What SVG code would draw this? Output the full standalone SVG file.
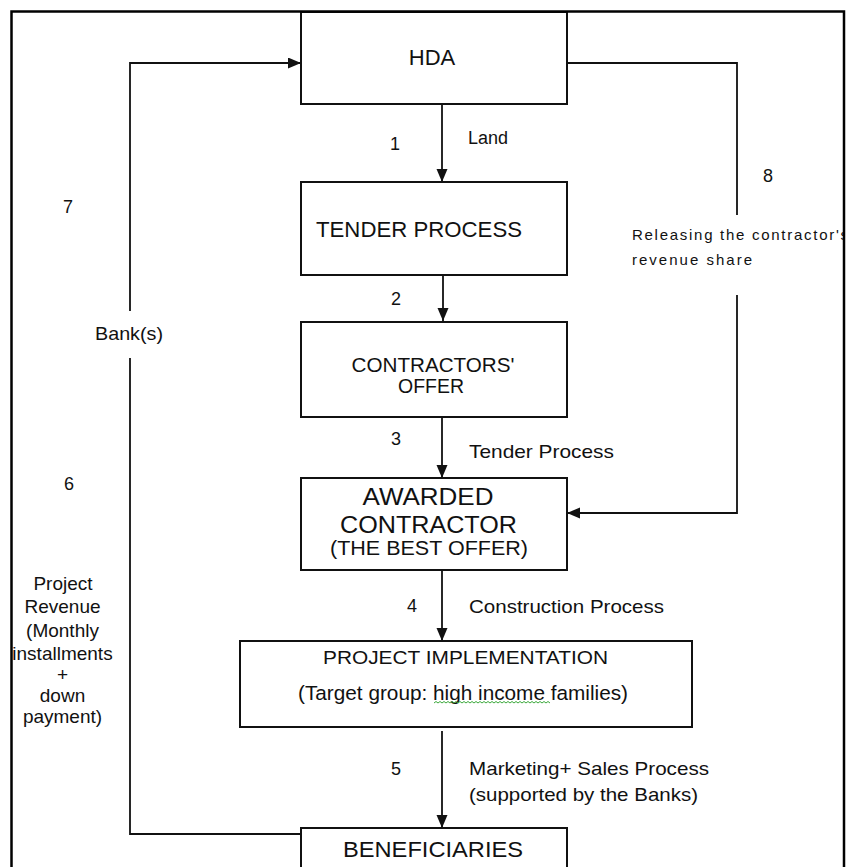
<svg xmlns="http://www.w3.org/2000/svg" width="850" height="867" viewBox="0 0 850 867">
<defs>
<style>
.box{fill:#fff;stroke:#111;stroke-width:2}
.ln{fill:none;stroke:#111;stroke-width:1.8}
.t{font-family:"Liberation Sans",Arial,sans-serif;fill:#111}
.c{text-anchor:middle}
.bm{font-family:"Liberation Sans",Arial,sans-serif;fill:#111;font-size:15px}
</style>
<marker id="ah" markerUnits="userSpaceOnUse" markerWidth="14" markerHeight="12" refX="13" refY="5.5" orient="auto">
<path d="M0,0 L13,5.5 L0,11 z" fill="#111"/>
</marker>
<clipPath id="fr"><rect x="0" y="0" width="843" height="867"/></clipPath>
</defs>
<rect width="850" height="867" fill="#fff"/>

<g id="connectors">
<path class="ln" d="M442,104 V182" marker-end="url(#ah)"/>
<path class="ln" d="M443,275 V321" marker-end="url(#ah)"/>
<path class="ln" d="M442,417 V478" marker-end="url(#ah)"/>
<path class="ln" d="M442,570 V641" marker-end="url(#ah)"/>
<path class="ln" d="M442,731 V828" marker-end="url(#ah)"/>
<path class="ln" d="M301,834 H130 V358"/>
<path class="ln" d="M130,311 V63 H301" marker-end="url(#ah)"/>
<path class="ln" d="M567,63 H737 V215"/>
<path class="ln" d="M737,295 V513 H567" marker-end="url(#ah)"/>
</g>

<g id="hda">
<rect class="box" x="301" y="12" width="266" height="92"/>
<text class="t c" x="432" y="65" font-size="22">HDA</text>
</g>
<g id="tender">
<rect class="box" x="301" y="182" width="266" height="93"/>
<text class="t c" x="419" y="237" font-size="22" textLength="206" lengthAdjust="spacingAndGlyphs">TENDER PROCESS</text>
</g>
<g id="offer">
<rect class="box" x="301" y="322" width="266" height="95"/>
<text class="t c" x="433" y="372" font-size="20" textLength="163" lengthAdjust="spacingAndGlyphs">CONTRACTORS'</text>
<text class="t c" x="431" y="393" font-size="20" textLength="66" lengthAdjust="spacingAndGlyphs">OFFER</text>
</g>
<g id="awarded">
<rect class="box" x="301" y="478" width="266" height="92"/>
<text class="t c" x="428" y="505" font-size="24" textLength="131" lengthAdjust="spacingAndGlyphs">AWARDED</text>
<text class="t c" x="428.5" y="533" font-size="24" textLength="177" lengthAdjust="spacingAndGlyphs">CONTRACTOR</text>
<text class="t c" x="429" y="555" font-size="20" textLength="198" lengthAdjust="spacingAndGlyphs">(THE BEST OFFER)</text>
</g>
<g id="implementation">
<rect class="box" x="240" y="641" width="452" height="86"/>
<text class="t c" x="465.5" y="664" font-size="19" textLength="285" lengthAdjust="spacingAndGlyphs">PROJECT IMPLEMENTATION</text>
<text class="t c" x="463" y="700" font-size="20.5" textLength="330" lengthAdjust="spacingAndGlyphs">(Target group: high income families)</text>
<path d="M434,703 l2,-1.5 l2,1.5 l2,-1.5 l2,1.5 l2,-1.5 l2,1.5 l2,-1.5 l2,1.5 l2,-1.5 l2,1.5 l2,-1.5 l2,1.5 l2,-1.5 l2,1.5 l2,-1.5 l2,1.5 l2,-1.5 l2,1.5 l2,-1.5 l2,1.5 l2,-1.5 l2,1.5 l2,-1.5 l2,1.5 l2,-1.5 l2,1.5 l2,-1.5 l2,1.5 l2,-1.5 l2,1.5 l2,-1.5 l2,1.5 l2,-1.5 l2,1.5 l2,-1.5 l2,1.5 l2,-1.5 l2,1.5 l2,-1.5 l2,1.5 l2,-1.5 l2,1.5 l2,-1.5 l2,1.5 l2,-1.5 l2,1.5 l2,-1.5 l2,1.5 l2,-1.5 l2,1.5 l2,-1.5 l2,1.5 l2,-1.5 l2,1.5 l2,-1.5 l2,1.5 l2,-1.5 l2,1.5" fill="none" stroke="#3aa83a" stroke-width="1"/>
</g>
<g id="beneficiaries">
<rect class="box" x="301" y="828" width="266" height="60"/>
<text class="t c" x="433" y="857" font-size="22" textLength="180" lengthAdjust="spacingAndGlyphs">BENEFICIARIES</text>
</g>

<g id="labels">
<text class="t c" x="395" y="150" font-size="18">1</text>
<text class="t" x="468" y="144" font-size="18">Land</text>
<text class="t c" x="396" y="305" font-size="18">2</text>
<text class="t c" x="396" y="445" font-size="18">3</text>
<text class="t" x="469" y="458" font-size="18.5" textLength="145" lengthAdjust="spacingAndGlyphs">Tender Process</text>
<text class="t c" x="412" y="612" font-size="18">4</text>
<text class="t" x="469" y="613" font-size="18.5" textLength="195" lengthAdjust="spacingAndGlyphs">Construction Process</text>
<text class="t c" x="396" y="775" font-size="18">5</text>
<text class="t" x="469" y="775" font-size="18.5" textLength="240" lengthAdjust="spacingAndGlyphs">Marketing+ Sales Process</text>
<text class="t" x="469" y="801" font-size="18.5" textLength="229" lengthAdjust="spacingAndGlyphs">(supported by the Banks)</text>
<text class="t c" x="68" y="213" font-size="18">7</text>
<text class="t c" x="129" y="340" font-size="19" textLength="68" lengthAdjust="spacingAndGlyphs">Bank(s)</text>
<text class="t c" x="69" y="490" font-size="18">6</text>
<text class="t c" x="63" y="590" font-size="19">Project</text>
<text class="t c" x="62.5" y="613" font-size="19">Revenue</text>
<text class="t c" x="62.5" y="637" font-size="19">(Monthly</text>
<text class="t c" x="62.5" y="660" font-size="19">installments</text>
<text class="t c" x="62.5" y="681" font-size="19">+</text>
<text class="t c" x="62.5" y="702" font-size="19">down</text>
<text class="t c" x="62.5" y="723" font-size="19">payment)</text>
<text class="t c" x="768" y="182" font-size="18">8</text>
<g clip-path="url(#fr)">
<text class="bm" x="632" y="240" textLength="216" lengthAdjust="spacing">Releasing the contractor's</text>
</g>
<text class="bm" x="632" y="265" textLength="120" lengthAdjust="spacing">revenue share</text>
</g>

<path d="M11.5,870 V11.5 H844 V870" fill="none" stroke="#000" stroke-width="2.5"/>
</svg>
